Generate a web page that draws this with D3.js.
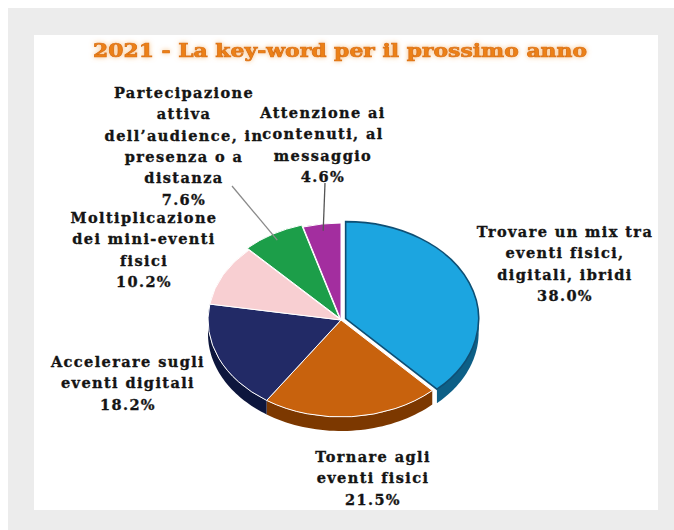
<!DOCTYPE html>
<html>
<head>
<meta charset="utf-8">
<script src="https://cdn.jsdelivr.net/npm/d3@7"></script>
<style>
  html, body { margin: 0; padding: 0; background: #ffffff; }
  svg { display: block; }
  .lbl { font-family: "DejaVu Serif", serif; font-weight: bold; font-size: 14.5px; fill: #141414; stroke: #141414; stroke-width: 0.35px; letter-spacing: 1.4px; }
</style>
</head>
<body>
<svg id="chart" width="674" height="530"></svg>
<script>
// Survey answers: the key word for next year
const title = "2021 - La key-word per il prossimo anno";
const categories = [
  "Trovare un mix tra eventi fisici, digitali, ibridi",
  "Tornare agli eventi fisici",
  "Accelerare sugli eventi digitali",
  "Moltiplicazione dei mini-eventi fisici",
  "Partecipazione attiva dell'audience, in presenza o a distanza",
  "Attenzione ai contenuti, al messaggio"
];
const values = [38.0, 21.5, 18.2, 10.2, 7.6, 4.6];
const labelLines = [
  ["Trovare un mix tra", "eventi fisici,", "digitali, ibridi"],
  ["Tornare agli", "eventi fisici"],
  ["Accelerare sugli", "eventi digitali"],
  ["Moltiplicazione", "dei mini-eventi", "fisici"],
  ["Partecipazione", "attiva", "dell\u2019audience, in", "presenza o a", "distanza"],
  ["Attenzione ai", "contenuti, al", "messaggio"]
];
const colors = ["#1fa5e0", "#c8620f", "#212a66", "#f8cfd2", "#1c9e49", "#a32f9f"];
const sideColors = ["#0f5f86", "#7c3806", "#10173c", "#caa0a4", "#0f6a2e", "#6a1a66"];

// Layout
const W = 674, H = 530;
const cx = 341, cy = 320, rx = 133, ry = 97, depth = 14;
const explode = [5, 0, 0, 0, 3, 0];
const labelAnchor = [
  { x: 565, y: 237 },
  { x: 373, y: 462 },
  { x: 128, y: 367 },
  { x: 144, y: 223 },
  { x: 184, y: 98 },
  { x: 323, y: 118 }
];
const lineH = 21.3;

const svg = d3.select("#chart");

// backgrounds
svg.append("rect").attr("x", 8).attr("y", 8).attr("width", W - 8).attr("height", H - 8).attr("fill", "#ececec");
svg.append("rect").attr("x", 34).attr("y", 35).attr("width", 624).attr("height", 475).attr("fill", "#ffffff");

const defs = svg.append("defs");
const glow = defs.append("filter").attr("id", "glow").attr("x", "-10%").attr("y", "-50%").attr("width", "120%").attr("height", "200%");
glow.append("feGaussianBlur").attr("in", "SourceAlpha").attr("stdDeviation", 2.4).attr("result", "b");
glow.append("feFlood").attr("flood-color", "#f6b46a").attr("flood-opacity", 0.85);
glow.append("feComposite").attr("in2", "b").attr("operator", "in").attr("result", "g");
const gm = glow.append("feMerge");
gm.append("feMergeNode").attr("in", "g");
gm.append("feMergeNode").attr("in", "SourceGraphic");

const soft = defs.append("filter").attr("id", "soft");
soft.append("feGaussianBlur").attr("stdDeviation", 0.4);

// title
svg.append("text")
  .attr("x", 340).attr("y", 57)
  .attr("text-anchor", "middle")
  .attr("textLength", 494)
  .attr("lengthAdjust", "spacingAndGlyphs")
  .attr("font-family", "DejaVu Serif, serif")
  .attr("font-weight", "bold")
  .attr("font-size", 18.5)
  .attr("fill", "#ec8018")
  .attr("stroke", "#d9700f")
  .attr("stroke-width", 0.7)
  .attr("filter", "url(#glow)")
  .text(title);

const pie = d3.pie().sort(null).value(d => d);
const arcs = pie(values);

const pt = (a, r0 = 1) => [Math.sin(a) * rx * r0, -Math.cos(a) * ry * r0];
const offset = (d, i) => {
  const m = (d.startAngle + d.endAngle) / 2;
  return [Math.sin(m) * explode[i], -Math.cos(m) * explode[i] * ry / rx];
};

const pieG = svg.append("g").attr("transform", `translate(${cx},${cy})`).attr("filter", "url(#soft)");

// side walls for the front half of the pie
const line = d3.line();
arcs.forEach((d, i) => {
  const a0 = Math.max(d.startAngle, Math.PI / 2);
  const a1 = Math.min(d.endAngle, Math.PI * 3 / 2);
  if (a1 <= a0) return;
  const n = 40;
  const angles = d3.range(n + 1).map(k => a0 + (a1 - a0) * k / n);
  const [ox, oy] = offset(d, i);
  const top = angles.map(a => { const p = pt(a); return [p[0] + ox, p[1] + oy]; });
  const bottom = angles.slice().reverse().map(a => { const p = pt(a); return [p[0] + ox, p[1] + oy + depth]; });
  pieG.append("path")
    .attr("d", line(top.concat(bottom)) + "Z")
    .attr("fill", sideColors[i]);
});

// top faces
const arcGen = d3.arc().innerRadius(0).outerRadius(rx);
arcs.forEach((d, i) => {
  const [ox, oy] = offset(d, i);
  pieG.append("g")
    .attr("transform", `translate(${ox},${oy}) scale(1,${ry / rx})`)
    .append("path")
    .attr("d", arcGen(d))
    .attr("fill", colors[i])
    .attr("stroke", i === 0 ? "#0e4f74" : "#ffffff")
    .attr("stroke-width", i === 0 ? 1.6 : 1)
    .attr("vector-effect", "non-scaling-stroke");
});

// leader lines for the two small slices
const leaders = [
  { i: 4, from: [232 - cx, 186 - cy], color: "#8a8a8a" },
  { i: 5, from: [325 - cx, 183 - cy], color: "#555555" }
];
leaders.forEach(l => {
  const d = arcs[l.i];
  const m = (d.startAngle + d.endAngle) / 2;
  const p = pt(m, 0.93);
  const [ox, oy] = offset(d, l.i);
  svg.append("line")
    .attr("x1", cx + l.from[0]).attr("y1", cy + l.from[1])
    .attr("x2", cx + p[0] + ox).attr("y2", cy + p[1] + oy)
    .attr("stroke", l.color).attr("stroke-width", 1.3);
});

// labels
arcs.forEach((d, i) => {
  const lines = labelLines[i].concat([values[i].toFixed(1) + "%"]);
  const t = svg.append("text")
    .attr("class", "lbl")
    .attr("text-anchor", "middle")
    .attr("x", labelAnchor[i].x)
    .attr("y", labelAnchor[i].y);
  lines.forEach((s, k) => {
    t.append("tspan")
      .attr("x", labelAnchor[i].x)
      .attr("dy", k === 0 ? 0 : lineH)
      .text(s);
  });
});
</script>
</body>
</html>
